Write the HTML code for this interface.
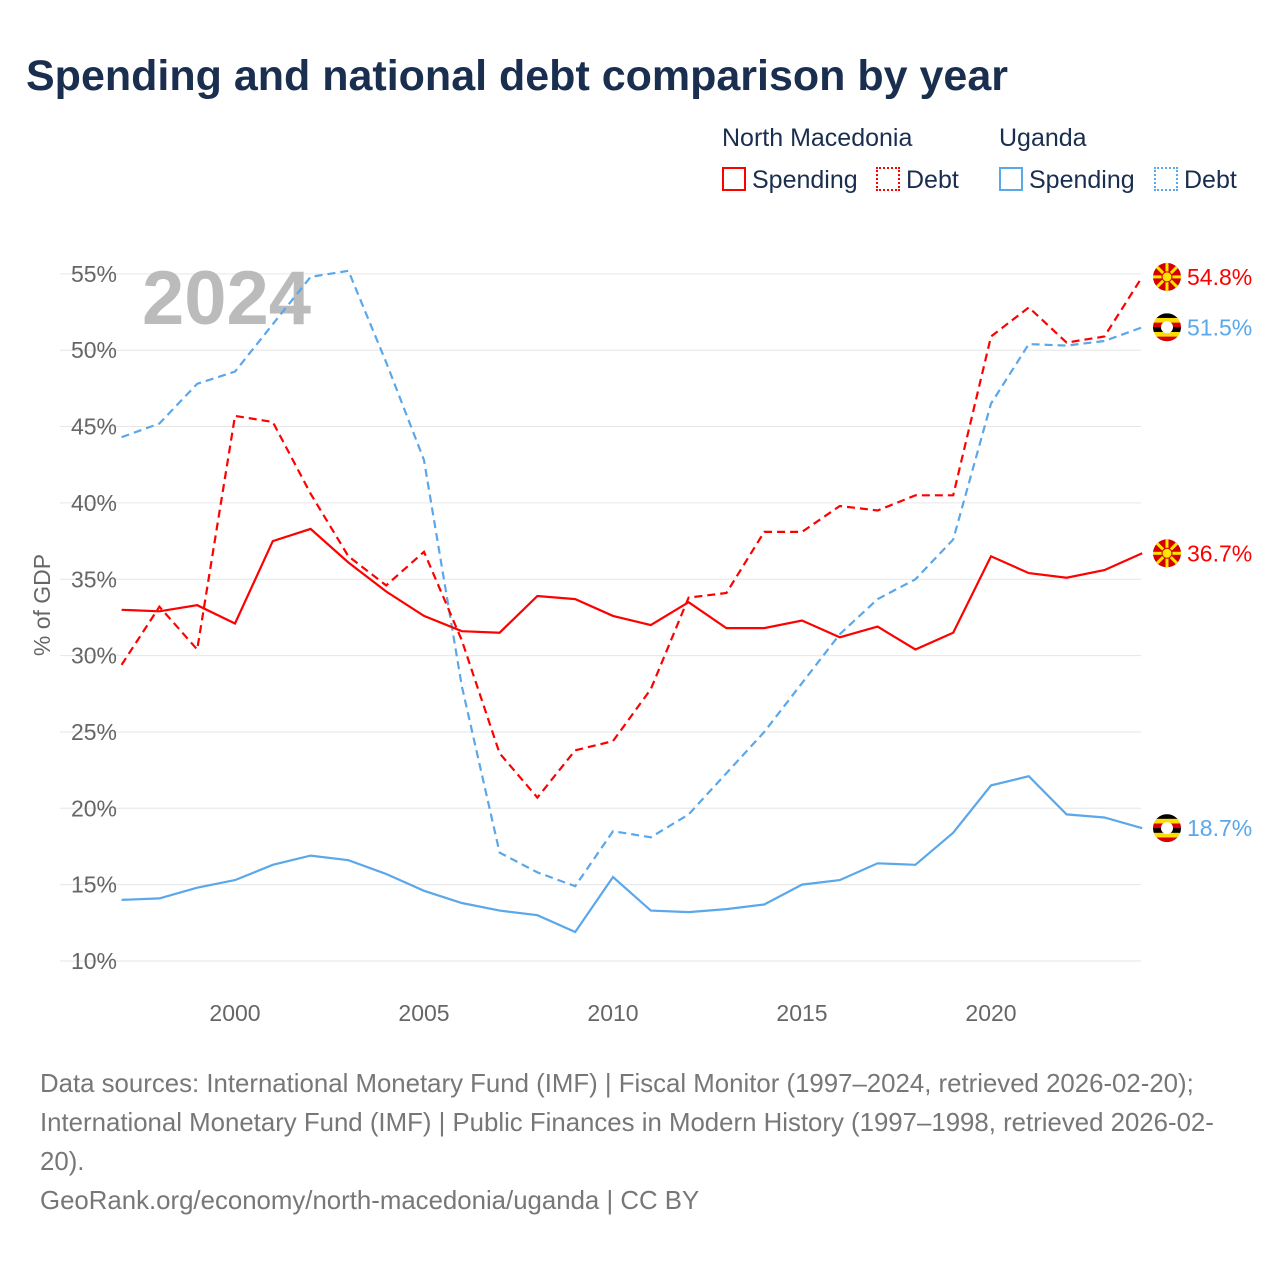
<!DOCTYPE html>
<html><head><meta charset="utf-8">
<style>
body{margin:0;background:#fff;font-family:"Liberation Sans",sans-serif;}
#wrap{position:relative;width:1280px;height:1280px;overflow:hidden;}
.t{position:absolute;white-space:nowrap;}
</style></head>
<body>
<div id="wrap">
<div class="t" style="left:26px;top:52px;font-size:43px;font-weight:bold;color:#1a2e4f;">Spending and national debt comparison by year</div>
<div class="t" style="left:722px;top:124px;font-size:25px;color:#1a2e4f;">North Macedonia</div>
<div class="t" style="left:999px;top:124px;font-size:25px;color:#1a2e4f;">Uganda</div>
<div class="t" style="left:722px;top:166px;font-size:25px;color:#1a2e4f;"><span style="display:inline-block;width:24px;height:24px;border:2px solid #f00;box-sizing:border-box;vertical-align:-3px;margin-right:6px"></span>Spending</div>
<div class="t" style="left:876px;top:166px;font-size:25px;color:#1a2e4f;"><span style="display:inline-block;width:24px;height:24px;border:2px dotted #f00;box-sizing:border-box;vertical-align:-3px;margin-right:6px"></span>Debt</div>
<div class="t" style="left:999px;top:166px;font-size:25px;color:#1a2e4f;"><span style="display:inline-block;width:24px;height:24px;border:2px solid #5aa7ea;box-sizing:border-box;vertical-align:-3px;margin-right:6px"></span>Spending</div>
<div class="t" style="left:1154px;top:166px;font-size:25px;color:#1a2e4f;"><span style="display:inline-block;width:24px;height:24px;border:2px dotted #5aa7ea;box-sizing:border-box;vertical-align:-3px;margin-right:6px"></span>Debt</div>
<svg id="chart" width="1280" height="1280" style="position:absolute;left:0;top:0"></svg>
<div class="t" style="left:40px;top:1065px;font-size:25.8px;line-height:39px;color:#777;">Data sources: International Monetary Fund (IMF) | Fiscal Monitor (1997–2024, retrieved 2026-02-20);<br>International Monetary Fund (IMF) | Public Finances in Modern History (1997–1998, retrieved 2026-02-<br>20).<br>GeoRank.org/economy/north-macedonia/uganda | CC BY</div>
</div>
<script>
const years=[1997,1998,1999,2000,2001,2002,2003,2004,2005,2006,2007,2008,2009,2010,2011,2012,2013,2014,2015,2016,2017,2018,2019,2020,2021,2022,2023,2024];
const nmSpending=[33.0,32.9,33.3,32.1,37.5,38.3,36.1,34.2,32.6,31.6,31.5,33.9,33.7,32.6,32.0,33.5,31.8,31.8,32.3,31.2,31.9,30.4,31.5,36.5,35.4,35.1,35.6,36.7];
const nmDebt=[29.4,33.2,30.4,45.7,45.3,40.6,36.5,34.6,36.8,31.0,23.6,20.7,23.8,24.4,27.8,33.8,34.1,38.1,38.1,39.8,39.5,40.5,40.5,50.9,52.8,50.5,50.9,54.8];
const ugSpending=[14.0,14.1,14.8,15.3,16.3,16.9,16.6,15.7,14.6,13.8,13.3,13.0,11.9,15.5,13.3,13.2,13.4,13.7,15.0,15.3,16.4,16.3,18.4,21.5,22.1,19.6,19.4,18.7];
const ugDebt=[44.3,45.2,47.8,48.6,51.7,54.8,55.2,49.2,42.8,28.0,17.1,15.8,14.9,18.5,18.1,19.6,22.3,25.0,28.2,31.4,33.7,35.0,37.6,46.5,50.4,50.3,50.6,51.5];
const yTicks=[10,15,20,25,30,35,40,45,50,55];
const xTicks=[2000,2005,2010,2015,2020];
const NS='http://www.w3.org/2000/svg';
const svg=document.getElementById('chart');
const X=y=>121.6+(y-1997)*37.8;
const Y=v=>961-(v-10)*15.27;
function el(t,a,p){const e=document.createElementNS(NS,t);for(const k in a)e.setAttribute(k,a[k]);(p||svg).appendChild(e);return e;}
yTicks.forEach(v=>{
 const g=el('line',{x1:60,x2:1141,y1:Y(v),y2:Y(v),stroke:'#e6e6e6','stroke-width':1});
 
 
 const t=el('text',{x:117,y:Y(v)+8,'text-anchor':'end','font-size':23,fill:'#666','font-family':'Liberation Sans, sans-serif'});
 t.textContent=v+'%';
 
 
});
xTicks.forEach(y=>{
 const t=el('text',{x:X(y),y:1021,'text-anchor':'middle','font-size':23,fill:'#666','font-family':'Liberation Sans, sans-serif'});
 t.textContent=y;
 
 
});
const yt=el('text',{transform:'translate(50,605) rotate(-90)','text-anchor':'middle','font-size':23,fill:'#666','font-family':'Liberation Sans, sans-serif'});
yt.textContent='% of GDP';


const yr=el('text',{x:142,y:324,'font-size':76,'font-weight':'bold',fill:'#bbb','font-family':'Liberation Sans, sans-serif'});
yr.textContent='2024';


function line(vals,color,dash,name){
 const d=vals.map((v,i)=>(i?'L':'M')+X(years[i]).toFixed(1)+' '+Y(v).toFixed(1)).join(' ');
 const p=el('path',{d:d,fill:'none',stroke:color,'stroke-width':2.2,'stroke-dasharray':dash||'none'});
 
 
}
line(ugDebt,'#5aa7ea','8 5','line-uganda-debt');
line(nmDebt,'#f00','8 5','line-north-macedonia-debt');
line(ugSpending,'#5aa7ea','','line-uganda-spending');
line(nmSpending,'#f00','','line-north-macedonia-spending');
function flag(cx,cy,kind){
 const g=el('g',{});
 
 
 if(kind==='mk'){
  el('circle',{cx:cx,cy:cy,r:14,fill:'#d20000'},g);
  for(let i=0;i<8;i++){const a=i*Math.PI/4;el('line',{x1:cx,y1:cy,x2:cx+14*Math.cos(a),y2:cy+14*Math.sin(a),stroke:'#ffe600','stroke-width':3},g);}
  el('circle',{cx:cx,cy:cy,r:5,fill:'#ffe600',stroke:'#d20000','stroke-width':1},g);
 }else{
  const cols=['#000','#fcdc04','#d90000','#000','#fcdc04','#d90000'];
  const id='c'+Math.round(cy);
  const cp=el('clipPath',{id:id},g);el('circle',{cx:cx,cy:cy,r:14},cp);
  cols.forEach((c,i)=>el('rect',{x:cx-14,y:cy-14+i*28/6,width:28,height:28/6+0.5,fill:c,'clip-path':'url(#'+id+')'},g));
  el('circle',{cx:cx,cy:cy,r:6,fill:'#fff'},g);
 }
}
const ends=[[nmDebt,'#f00','mk'],[ugDebt,'#5aa7ea','ug'],[nmSpending,'#f00','mk'],[ugSpending,'#5aa7ea','ug']];
ends.forEach(([arr,c,k])=>{
 const v=arr[arr.length-1];
 flag(1167,Y(v),k);
 const t=el('text',{x:1187,y:Y(v)+8,'font-size':23,fill:c,'font-family':'Liberation Sans, sans-serif'});
 t.textContent=v.toFixed(1)+'%';
 
 
});
</script>
</body></html>
